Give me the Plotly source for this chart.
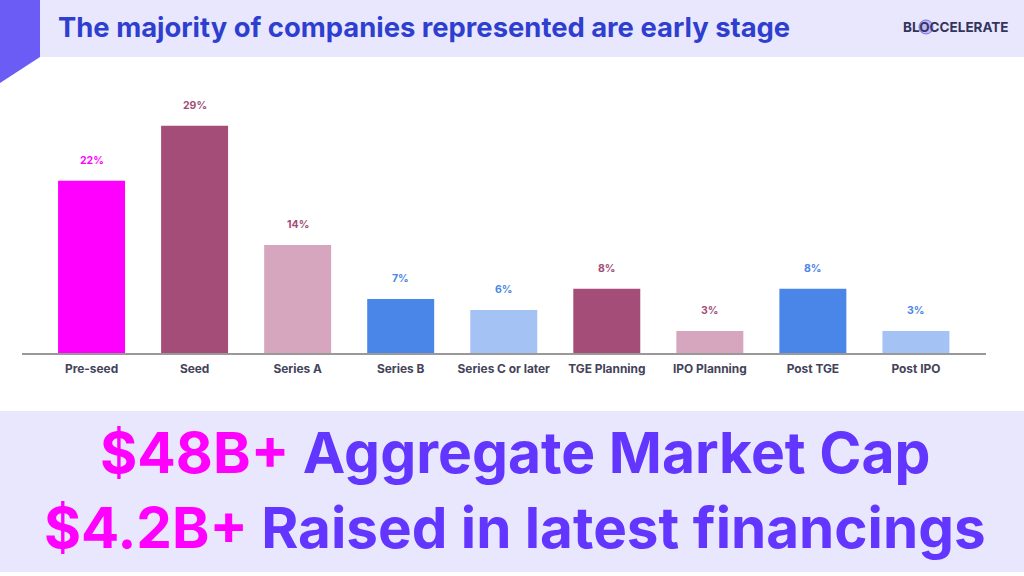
import plotly.graph_objects as go

# values, labels as printed above the bars
categories = ['Pre-seed', 'Seed', 'Series A', 'Series B', 'Series C or later',
              'TGE Planning', 'IPO Planning', 'Post TGE', 'Post IPO']
values = [22, 29, 13.8, 6.9, 5.5, 8.2, 2.8, 8.2, 2.8]
labels = ['22%', '29%', '14%', '7%', '6%', '8%', '3%', '8%', '3%']
bar_colors = ['#FF00FF', '#A34D78', '#D5A6BD', '#4A86E8', '#A4C2F4',
              '#A34D78', '#D5A6BD', '#4A86E8', '#A4C2F4']
label_colors = ['#FF00FF', '#A34D78', '#A34D78', '#4A86E8', '#4A86E8',
                '#A34D78', '#A34D78', '#4A86E8', '#4A86E8']

W, H = 1024, 576
L, R, T, B = 22, 986, 60, 353
BAND = '#E9E7FD'
PURPLE = '#6236FF'
PINK = '#FF00FF'


def px(x):
    return (x - L) / (R - L)


def py(y):
    return (B - y) / (B - T)


fig = go.Figure(go.Bar(x=categories, y=values, marker_color=bar_colors, marker_line_width=0, width=0.65))

# header, corner and footer
fig.add_shape(type='rect', xref='paper', yref='paper', x0=px(40), x1=px(1024), y0=py(57), y1=py(0),
              fillcolor=BAND, line_width=0, layer='below')
fig.add_shape(type='rect', xref='paper', yref='paper', x0=px(0), x1=px(1024), y0=py(572), y1=py(411),
              fillcolor=BAND, line_width=0, layer='below')
fig.add_shape(type='path', xref='paper', yref='paper',
              path=f'M {px(0)} {py(0)} L {px(40)} {py(0)} L {px(40)} {py(57)} L {px(0)} {py(83)} Z',
              fillcolor='#6A5CF5', line_width=0, layer='below')
# logo mark behind the first O
fig.add_shape(type='circle', xref='paper', yref='paper', x0=px(919), x1=px(933), y0=py(34), y1=py(20),
              fillcolor='rgba(106,92,245,0.35)', line=dict(color='#7C72E0', width=1), layer='below')

for cat, val, lab, col in zip(categories, values, labels, label_colors):
    fig.add_annotation(x=cat, y=val, text=lab, showarrow=False, yanchor='bottom', yshift=12,
                       font=dict(family='Inter', size=10.5, color=col, weight='bold'))

fig.add_annotation(xref='paper', yref='paper', x=px(56), y=py(27), xanchor='left', yanchor='middle',
                   text='The majority of companies represented are early stage', showarrow=False,
                   font=dict(family='Inter', size=27.4, color='#2E3FD0', weight='bold'))
fig.add_annotation(xref='paper', yref='paper', x=px(956), y=py(27), xanchor='center', yanchor='middle',
                   text='BLOCCELERATE', showarrow=False,
                   font=dict(family='Inter', size=13.5, color='#34345C', weight='bold'))
fig.add_annotation(xref='paper', yref='paper', x=px(514.5), y=py(452), xanchor='center', yanchor='middle',
                   text=f'<span style="color:{PINK}">$48B+</span> Aggregate Market Cap', showarrow=False,
                   font=dict(family='Inter', size=57, color=PURPLE, weight='bold'))
fig.add_annotation(xref='paper', yref='paper', x=px(515), y=py(527), xanchor='center', yanchor='middle',
                   text=f'<span style="color:{PINK}">$4.2B+</span> Raised in latest financings', showarrow=False,
                   font=dict(family='Inter', size=56.6, color=PURPLE, weight='bold'))

fig.update_layout(
    width=W, height=H, autosize=False, showlegend=False,
    margin=dict(l=L, r=W - R, t=T, b=H - B),
    paper_bgcolor='white', plot_bgcolor='white',
    xaxis=dict(type='category', categoryorder='array', categoryarray=categories,
               range=[-0.675, 8.68], showline=True, linecolor='#999999', linewidth=1.5,
               showgrid=False, ticks='', ticklen=0, ticklabelstandoff=4,
               tickfont=dict(family='Inter', size=11.9, color='#43435A', weight='bold')),
    yaxis=dict(range=[0, 37.4], visible=False, showgrid=False, zeroline=False),
)

# page has an 8px body margin by default, the chart fills the window
fig.write_html("out.html", config=dict(displayModeBar=False),
               post_script="document.body.style.margin='0';document.body.style.overflow='hidden';")
